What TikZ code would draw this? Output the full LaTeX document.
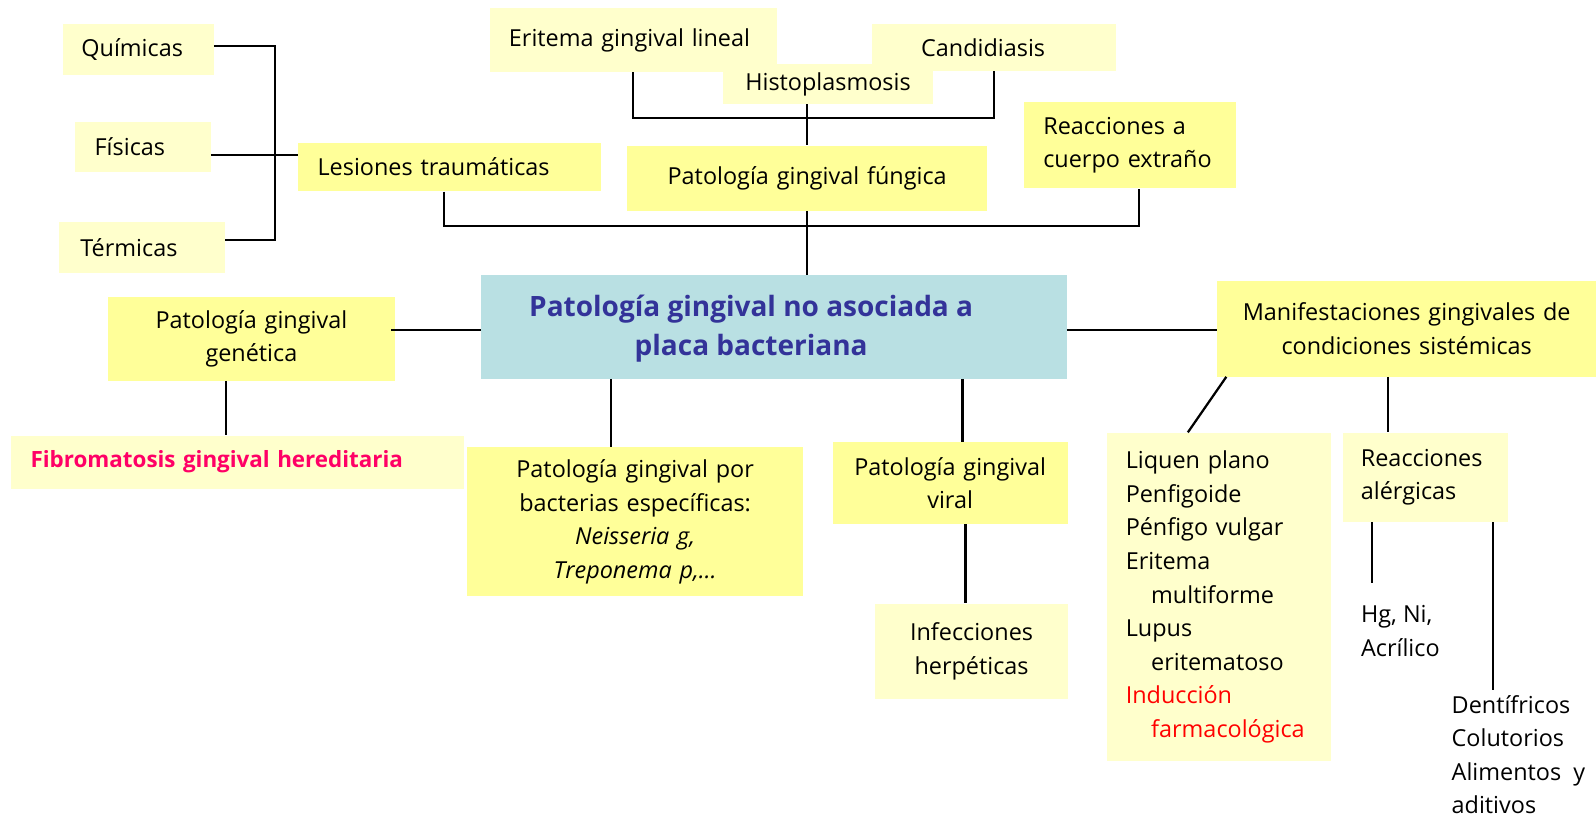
\documentclass[tikz,border=0pt]{standalone}
\usepackage{fontspec}
\setmainfont{Open Sans}
\definecolor{paleyel}{HTML}{FFFFCC}
\definecolor{strongyel}{HTML}{FFFF99}
\definecolor{mainblue}{HTML}{B9E0E3}
\definecolor{titleblue}{HTML}{333399}
\definecolor{fibropink}{HTML}{FF0066}
\usetikzlibrary{positioning,calc}

\begin{document}
\begin{tikzpicture}[x=1pt, y=-1pt,
    txt/.style={font=\fontsize{23}{33}\selectfont, inner sep=0pt},
    pale/.style={txt, fill=paleyel},
    strong/.style={txt, fill=strongyel},
    mainbox/.style={fill=mainblue, inner sep=0pt},
    maintxt/.style={font=\fontsize{27.5}{39}\selectfont\bfseries, text=titleblue,
                    align=center, inner sep=0pt},
    conn/.style={line width=2.2pt, black}
  ]
    \useasboundingbox (0,0) rectangle (1568,803);

    % traumatic group
    \node[pale, minimum width=148pt, minimum height=50pt, inner xsep=18pt, text width=112pt, align=left] (quim) at (136,49) {Químicas};
    \node[pale, minimum width=133pt, minimum height=49pt, inner xsep=19pt, text width=95pt, align=left] (fis) at (140.5,144.5) {Físicas};
    \node[pale, minimum width=163pt, minimum height=50pt, inner xsep=21pt, text width=121pt, align=left] (term) at (139.5,243) {Térmicas};
    \node[strong, minimum width=297pt, minimum height=48pt, inner xsep=19pt, text width=259pt, align=left] (les) at (441.5,164) {Lesiones traumáticas};

    % fungal group
    \node[pale, minimum width=282pt, minimum height=63pt, inner xsep=19pt, text width=244pt, align=left] (erit) at (622,39.5) {Eritema gingival lineal};
    \node[pale, minimum width=239pt, minimum height=46pt, inner xsep=48pt, text width=143pt, align=left] (cand) at (976.5,47) {Candidiasis};
    \node[pale, minimum width=207pt, minimum height=39pt, text width=207pt, align=center] (histo) at (813.5,82.5) {Histoplasmosis};
    \node[strong, minimum width=354pt, minimum height=64pt, text width=354pt, align=center] (fung) at (793,175) {Patología gingival fúngica};
    \node[strong, minimum width=208pt, minimum height=85pt, inner xsep=19pt, text width=170pt, align=left] (reac) at (1110,142.5) {Reacciones a\\cuerpo extraño};

    % centre
    \node[mainbox, minimum width=575pt, minimum height=102pt] (main) at (760.5,321) {};
    \node[maintxt] (maintitle) at (738,323) {Patología gingival no asociada a\\placa bacteriana};

    % lower row
    \node[strong, minimum width=282pt, minimum height=82pt, text width=282pt, align=center] (gen) at (247,333) {Patología gingival\\genética};
    \node[pale, minimum width=445pt, minimum height=52pt, inner xsep=19pt, text width=407pt, align=left,
          font=\fontsize{22}{33}\selectfont\bfseries, text=fibropink] (fibro) at (233.5,454) {Fibromatosis gingival hereditaria};
    \node[strong, minimum width=330pt, minimum height=147pt, text width=330pt, align=center] (bact) at (624,512.5)
      {Patología gingival por\\bacterias específicas:\\\textit{Neisseria g,}\\\textit{Treponema p,…}};
    \node[strong, minimum width=231pt, minimum height=81pt, text width=231pt, align=center] (viral) at (933.5,474.5) {Patología gingival\\viral};
    \node[pale, minimum width=189pt, minimum height=94pt, text width=189pt, align=center] (herp) at (954.5,640) {Infecciones\\herpéticas};

    % systemic
    \node[strong, minimum width=372pt, minimum height=94pt, text width=372pt, align=center] (manif) at (1382,323) {Manifestaciones gingivales de\\condiciones sistémicas};
    \node[pale, minimum width=220pt, minimum height=323pt, inner xsep=18pt, text width=184pt, align=left] (liq) at (1198,586.5)
      {Liquen plano\\Penfigoide\\Pénfigo vulgar\\Eritema\\\hspace*{25pt}multiforme\\Lupus\\\hspace*{25pt}eritematoso\\
       \textcolor{red}{Inducción}\\\hspace*{25pt}\textcolor{red}{farmacológica}};
    \node[pale, minimum width=163pt, minimum height=88pt, inner xsep=18pt, text width=127pt, align=left] (alerg) at (1400.5,469) {Reacciones\\alérgicas};
    \node[txt, align=left, anchor=west] (hg) at (1337,620) {Hg, Ni,\\Acrílico};
    \node[txt, align=left, anchor=west] (dent) at (1426,741.5) {Dentífricos\\Colutorios\\Alimentos~~y\\aditivos};

    % joints
    \coordinate (lesjoin) at (270,152);
    \coordinate (fungjoin) at (793,116);
    \coordinate (topjoin) at (790,222);
    \coordinate (hgtop) at (1348,573);
    \coordinate (denttop) at (1467,678);

    % connectors
    \draw[conn] (quim.east |- 0,45) -| (lesjoin) |- (term.east |- 0,236);
    \draw[conn] (fis.east |- lesjoin) -- (les.west |- lesjoin);
    \draw[conn] (erit.south) |- (fungjoin) -| (cand.south);
    \draw[conn] (fung.north |- histo.south) -- (fung.north);
    \draw[conn] ([xshift=-5pt]les.south) |- (topjoin) -| ([xshift=9pt]reac.south);
    \draw[conn] (fung.south) -- (fung.south |- main.north);
    \draw[conn] ([xshift=-4pt]gen.east |- 0,324) -- (main.west |- 0,324);
    \draw[conn] (main.east |- 0,324) -- (manif.west |- 0,324);
    \draw[conn] ([xshift=-25pt]gen.south) -- ([xshift=-25pt]gen.south |- fibro.north);
    \draw[conn] ([xshift=-24pt]bact.north |- main.south) -- ([xshift=-24pt]bact.north);
    \draw[conn] ([xshift=12pt]viral.north |- main.south) -- ([xshift=12pt]viral.north);
    \draw[conn] ([xshift=-6pt]herp.north |- viral.south) -- ([xshift=-6pt]herp.north);
    \draw[conn] ([xshift=9pt]manif.south west) -- ([xshift=-31pt]liq.north);
    \draw[conn] ([xshift=-37pt]alerg.north |- manif.south) -- ([xshift=-37pt]alerg.north);
    \draw[conn] (alerg.south -| hgtop) -- (hgtop);
    \draw[conn] (alerg.south -| denttop) -- (denttop);
  \end{tikzpicture}
\end{document}
